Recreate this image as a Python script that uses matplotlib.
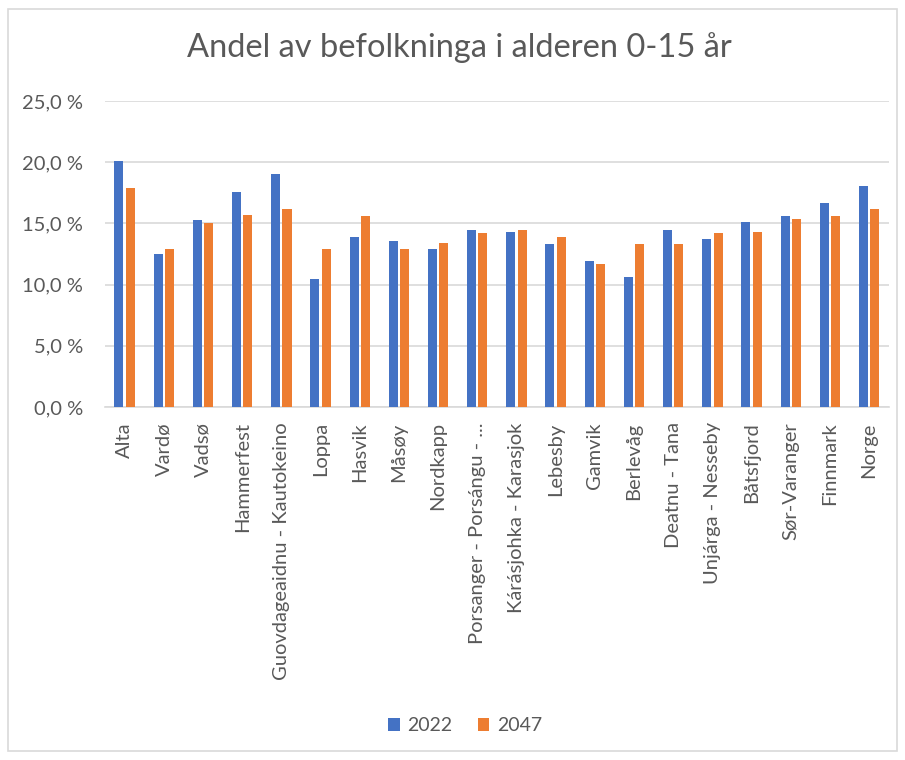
import matplotlib.pyplot as plt
import numpy as np
from matplotlib.patches import Rectangle

plt.rcParams['font.family'] = ['Lato', 'DejaVu Sans']

kommuner = ['Alta', 'Vardø', 'Vadsø', 'Hammerfest', 'Guovdageaidnu - Kautokeino',
            'Loppa', 'Hasvik', 'Måsøy', 'Nordkapp', 'Porsanger - Porsángu - ...',
            'Kárásjohka - Karasjok', 'Lebesby', 'Gamvik', 'Berlevåg', 'Deatnu - Tana',
            'Unjárga - Nesseby', 'Båtsfjord', 'Sør-Varanger', 'Finnmark', 'Norge']
andel_2022 = [20.1, 12.5, 15.3, 17.6, 19.0, 10.5, 13.9, 13.6, 12.9, 14.5,
              14.3, 13.3, 11.9, 10.6, 14.5, 13.7, 15.1, 15.6, 16.7, 18.1]
andel_2047 = [17.9, 12.9, 15.0, 15.7, 16.2, 12.9, 15.6, 12.9, 13.4, 14.2,
              14.5, 13.9, 11.7, 13.3, 13.3, 14.2, 14.3, 15.4, 15.6, 16.2]
yticks = [0, 5, 10, 15, 20, 25]

blue = '#4472C4'
orange = '#ED7D31'
grey_text = '#595959'

fig = plt.figure(figsize=(9.05, 7.6), dpi=100)
ax = fig.add_axes([0.116, 0.4645, 0.866, 0.4025])

x = np.arange(len(kommuner))
w = 0.23
ax.bar(x - 0.145, andel_2022, w, color=blue, label='2022', zorder=3)
ax.bar(x + 0.145, andel_2047, w, color=orange, label='2047', zorder=3)

ax.set_xlim(-0.5, len(kommuner) - 0.5)
ax.set_ylim(0, 25)
ax.set_yticks(yticks)
ax.set_yticklabels([f'{v:.1f} %'.replace('.', ',') for v in yticks],
                   fontsize=14.5, color=grey_text)
ax.set_xticks(x)
ax.set_xticklabels(kommuner, rotation=90, fontsize=14.5, color=grey_text)
ax.tick_params(axis='both', length=0)
ax.tick_params(axis='y', pad=16)
ax.tick_params(axis='x', pad=11)
ax.grid(axis='y', color='#D9D9D9', linewidth=1.2, zorder=0)
for s in ['top', 'right', 'left']:
    ax.spines[s].set_visible(False)
ax.spines['bottom'].set_color('#D9D9D9')
ax.spines['bottom'].set_linewidth(1.2)

fig.text(0.508, 0.937, 'Andel av befolkninga i alderen 0-15 år',
         ha='center', va='center', fontsize=23.5, color=grey_text)

fig.legend(loc='center', bbox_to_anchor=(0.514, 0.045), ncol=2, frameon=False,
           fontsize=14, handlelength=0.6, handleheight=0.6, handletextpad=0.4,
           columnspacing=1.3, labelcolor=grey_text)

fig.add_artist(Rectangle((0.009, 0.012), 0.982, 0.976, transform=fig.transFigure,
                         fill=False, edgecolor='#D9D9D9', linewidth=1.2))

fig.savefig('out.png', dpi=100)
